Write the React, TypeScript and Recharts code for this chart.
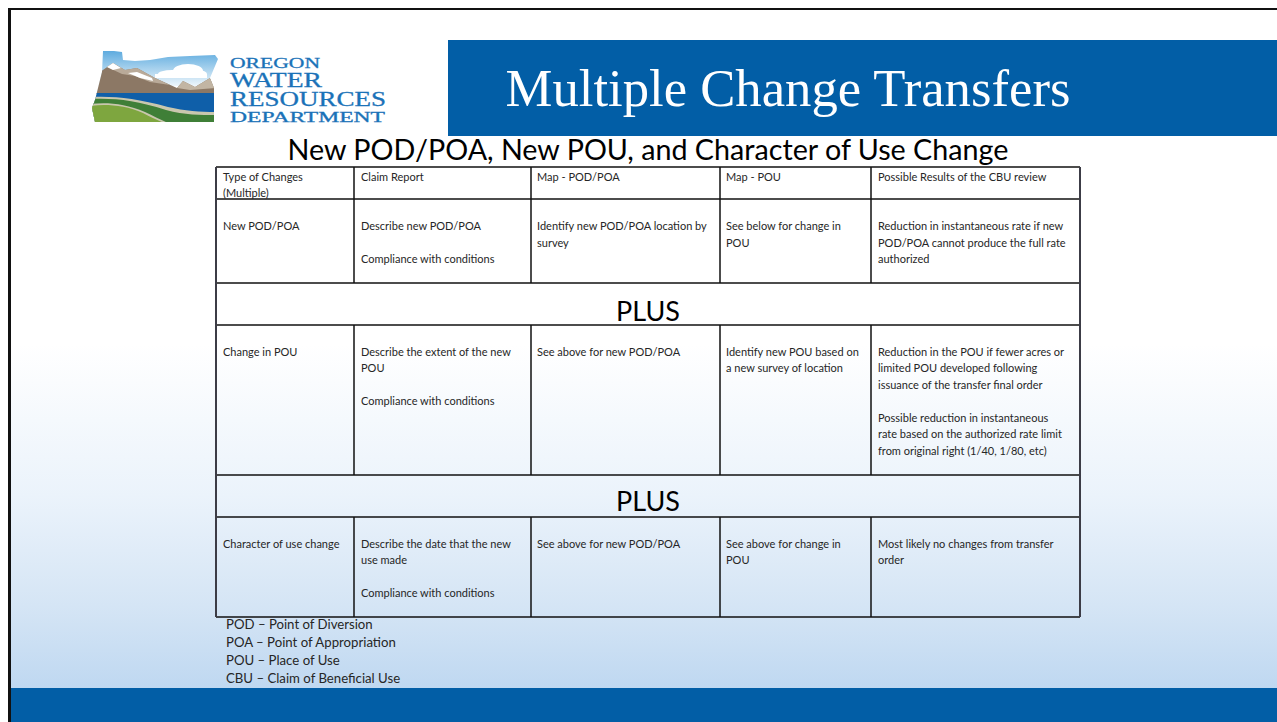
import React from "react";
import { ScatterChart, Scatter, XAxis, YAxis, ReferenceArea, ReferenceLine } from "recharts";

const W = 1277;
const H = 722;

const columnEdges = [216, 354, 531, 720, 871, 1080];
const rowEdges = [167, 199, 283, 325, 475, 517, 617];
const splitRows = [0, 1, 3, 5]; // rows divided by the five columns

const BLUE = "#025ea6";
const SANS = "Lato, Carlito, sans-serif";

const cellTexts = [
  { x: 223, y: 176, text: "Type of Changes" },
  { x: 223, y: 192.5, text: "(Multiple)" },
  { x: 361, y: 176, text: "Claim Report" },
  { x: 537, y: 176, text: "Map - POD/POA" },
  { x: 726, y: 176, text: "Map - POU" },
  { x: 878, y: 176, text: "Possible Results of the CBU review" },

  { x: 223, y: 225, text: "New POD/POA" },
  { x: 361, y: 225, text: "Describe new POD/POA" },
  { x: 361, y: 258, text: "Compliance with conditions" },
  { x: 537, y: 225, text: "Identify new POD/POA location by" },
  { x: 537, y: 242, text: "survey" },
  { x: 726, y: 225, text: "See below for change in" },
  { x: 726, y: 242, text: "POU" },
  { x: 878, y: 225, text: "Reduction in instantaneous rate if new" },
  { x: 878, y: 242, text: "POD/POA cannot produce the full rate" },
  { x: 878, y: 258, text: "authorized" },

  { x: 223, y: 351, text: "Change in POU" },
  { x: 361, y: 351, text: "Describe the extent of the new" },
  { x: 361, y: 367, text: "POU" },
  { x: 361, y: 400, text: "Compliance with conditions" },
  { x: 537, y: 351, text: "See above for new POD/POA" },
  { x: 726, y: 351, text: "Identify new POU based on" },
  { x: 726, y: 367, text: "a new survey of location" },
  { x: 878, y: 351, text: "Reduction in the POU if fewer acres or" },
  { x: 878, y: 367, text: "limited POU developed following" },
  { x: 878, y: 384, text: "issuance of the transfer final order" },
  { x: 878, y: 417, text: "Possible reduction in instantaneous" },
  { x: 878, y: 433, text: "rate based on the authorized rate limit" },
  { x: 878, y: 450, text: "from original right (1/40, 1/80, etc)" },

  { x: 223, y: 543, text: "Character of use change" },
  { x: 361, y: 543, text: "Describe the date that the new" },
  { x: 361, y: 559, text: "use made" },
  { x: 361, y: 592, text: "Compliance with conditions" },
  { x: 537, y: 543, text: "See above for new POD/POA" },
  { x: 726, y: 543, text: "See above for change in" },
  { x: 726, y: 559, text: "POU" },
  { x: 878, y: 543, text: "Most likely no changes from transfer" },
  { x: 878, y: 559, text: "order" },
];

const plusTexts = [
  { x: 648, y: 310, text: "PLUS" },
  { x: 648, y: 500, text: "PLUS" },
];

const footnotes = [
  { x: 226, y: 624, text: "POD – Point of Diversion" },
  { x: 226, y: 642, text: "POA – Point of Appropriation" },
  { x: 226, y: 660, text: "POU – Place of Use" },
  { x: 226, y: 678, text: "CBU – Claim of Beneficial Use" },
];

const headingTexts = [{ x: 648, y: 149, text: "New POD/POA, New POU, and Character of Use Change" }];
const titleTexts = [{ x: 788, y: 88, text: "Multiple Change Transfers" }];

const logoWords = [
  { x: 230, y: 68, text: "OREGON", len: 90, size: 15 },
  { x: 230, y: 86.5, text: "WATER", len: 92, size: 20 },
  { x: 230, y: 105.5, text: "RESOURCES", len: 156, size: 20 },
  { x: 230, y: 122, text: "DEPARTMENT", len: 155, size: 14 },
];
const logoAnchor = [{ x: 0, y: 0 }];

const textShape = (size: number, color: string, family: string, anchor: string) => (p: any) => (
  <text
    x={p.cx}
    y={p.cy}
    fontSize={size}
    fill={color}
    fontFamily={family}
    textAnchor={anchor}
    dominantBaseline="central"
  >
    {p.payload.text}
  </text>
);

const logoShape = (p: any) => (
  <g transform={`translate(${p.cx},${p.cy})`}>
    <defs>
      <clipPath id="oregon">
        <path d="M103 51 L114 51 L122 52 L123 60 L135 61 L150 60 L168 57 L190 56 L215 55 L218 59 L210 78 L214 88 L214 122 L95 122 L92 108 L95 100 L98 88 L102 72 Z" />
      </clipPath>
      <linearGradient id="sky" x1="0" y1="0" x2="0" y2="1">
        <stop offset="0" stopColor="#5aa9de" />
        <stop offset="1" stopColor="#eef6fb" />
      </linearGradient>
    </defs>
    <g clipPath="url(#oregon)">
      <rect x="90" y="50" width="130" height="36" fill="url(#sky)" />
      <ellipse cx="188" cy="71" rx="15" ry="7" fill="#fff" />
      <ellipse cx="172" cy="74" rx="14" ry="4" fill="#fff" />
      <ellipse cx="198" cy="74" rx="9" ry="4" fill="#fff" />
      <rect x="155" y="74" width="52" height="4" fill="#fff" />
      <path d="M100 72 L113 63 L125 70 L137 68 L155 78 L177 88 L183 81 L195 87 L210 78 L216 88 L216 94 L95 94 Z" fill="#8c7865" />
      <path d="M107 67 L113 63 L125 70 L137 68 L155 78 L170 85 L150 82 L135 76 L122 74 Z" fill="#b9aa99" />
      <path d="M107 67 L113 63 L121 68 L113 70 Z M128 73 L137 72 L152 78 L153 81 L140 78 Z" fill="#ffffff" />
      <path d="M177 88 L183 81 L195 87 L210 78 L216 88 L190 90 Z" fill="#c2b5a3" />
      <rect x="90" y="93" width="130" height="30" fill="#0f5fa9" />
      <path d="M90 97 C115 96 135 98 168 107 C185 111 200 112 216 112 L216 124 L90 124 Z" fill="#c9c7ae" />
      <path d="M90 99 C115 98 135 100 166 110 C185 115 200 115 216 115 L216 124 L90 124 Z" fill="#3f7f37" />
      <path d="M90 104 C105 102 125 103 145 112 C155 117 162 120 170 124 L90 124 Z" fill="#c9c7ae" />
      <path d="M90 106 C105 104 125 105 143 113 C152 118 158 120 166 124 L90 124 Z" fill="#7ea63f" />
    </g>
    {logoWords.map((w) => (
      <text
        key={w.text}
        x={w.x}
        y={w.y}
        fontSize={w.size}
        fontFamily="'Liberation Serif', serif"
        fill="#1a72b8"
        stroke="#1a72b8"
        strokeWidth={0.3}
        textLength={w.len}
        lengthAdjust="spacingAndGlyphs"
      >
        {w.text}
      </text>
    ))}
  </g>
);

export default function App() {
  const last = rowEdges.length - 1;
  return (
    <div style={{ position: "absolute", left: 0, top: 0, width: W, height: H }}>
      <ScatterChart width={W} height={H} margin={{ top: 0, right: 0, bottom: 0, left: 0 }}>
        <defs>
          <linearGradient id="bg" x1="0" y1="0" x2="0" y2="1">
            <stop offset="0" stopColor="#ffffff" />
            <stop offset="0.5" stopColor="#ffffff" />
            <stop offset="0.72" stopColor="#ebf3fb" />
            <stop offset="0.88" stopColor="#d5e5f5" />
            <stop offset="1" stopColor="#bfd8f1" />
          </linearGradient>
        </defs>
        <XAxis type="number" dataKey="x" domain={[0, W]} hide allowDataOverflow />
        <YAxis type="number" dataKey="y" domain={[0, H]} reversed hide allowDataOverflow />

        <ReferenceArea x1={0} x2={W} y1={0} y2={688} fill="url(#bg)" fillOpacity={1} stroke="none" />
        <ReferenceArea x1={0} x2={W} y1={688} y2={H} fill={BLUE} fillOpacity={1} stroke="none" />
        <ReferenceArea x1={448} x2={W} y1={40} y2={136} fill={BLUE} fillOpacity={1} stroke="none" />

        {/* slide frame */}
        <ReferenceArea x1={0} x2={W} y1={0} y2={8} fill="#ffffff" fillOpacity={1} stroke="none" />
        <ReferenceArea x1={0} x2={8} y1={0} y2={H} fill="#ffffff" fillOpacity={1} stroke="none" />
        <ReferenceArea x1={8} x2={W} y1={8} y2={10} fill="#111111" fillOpacity={1} stroke="none" />
        <ReferenceArea x1={8} x2={11} y1={8} y2={H} fill="#111111" fillOpacity={1} stroke="none" />

        {/* table rules */}
        {rowEdges.map((y) => (
          <ReferenceLine
            key={`h${y}`}
            segment={[
              { x: columnEdges[0], y },
              { x: columnEdges[columnEdges.length - 1], y },
            ]}
            stroke="#111111"
            strokeWidth={1.5}
          />
        ))}
        {columnEdges.slice(1, -1).flatMap((x) =>
          splitRows.map((r) => (
            <ReferenceLine
              key={`v${x}-${r}`}
              segment={[
                { x, y: rowEdges[r] },
                { x, y: rowEdges[r + 1] },
              ]}
              stroke="#111111"
              strokeWidth={1.5}
            />
          ))
        )}
        {[columnEdges[0], columnEdges[columnEdges.length - 1]].map((x) => (
          <ReferenceLine
            key={`o${x}`}
            segment={[
              { x, y: rowEdges[0] },
              { x, y: rowEdges[last] },
            ]}
            stroke="#3c3c46"
            strokeWidth={2}
          />
        ))}

        <Scatter data={logoAnchor} isAnimationActive={false} shape={logoShape} />
        <Scatter data={titleTexts} isAnimationActive={false} shape={textShape(52.7, "#ffffff", "'Liberation Serif', serif", "middle")} />
        <Scatter data={headingTexts} isAnimationActive={false} shape={textShape(28.7, "#000000", SANS, "middle")} />
        <Scatter data={cellTexts} isAnimationActive={false} shape={textShape(11, "#262626", SANS, "start")} />
        <Scatter data={plusTexts} isAnimationActive={false} shape={textShape(27, "#000000", SANS, "middle")} />
        <Scatter data={footnotes} isAnimationActive={false} shape={textShape(13.2, "#262626", SANS, "start")} />
      </ScatterChart>
    </div>
  );
}
